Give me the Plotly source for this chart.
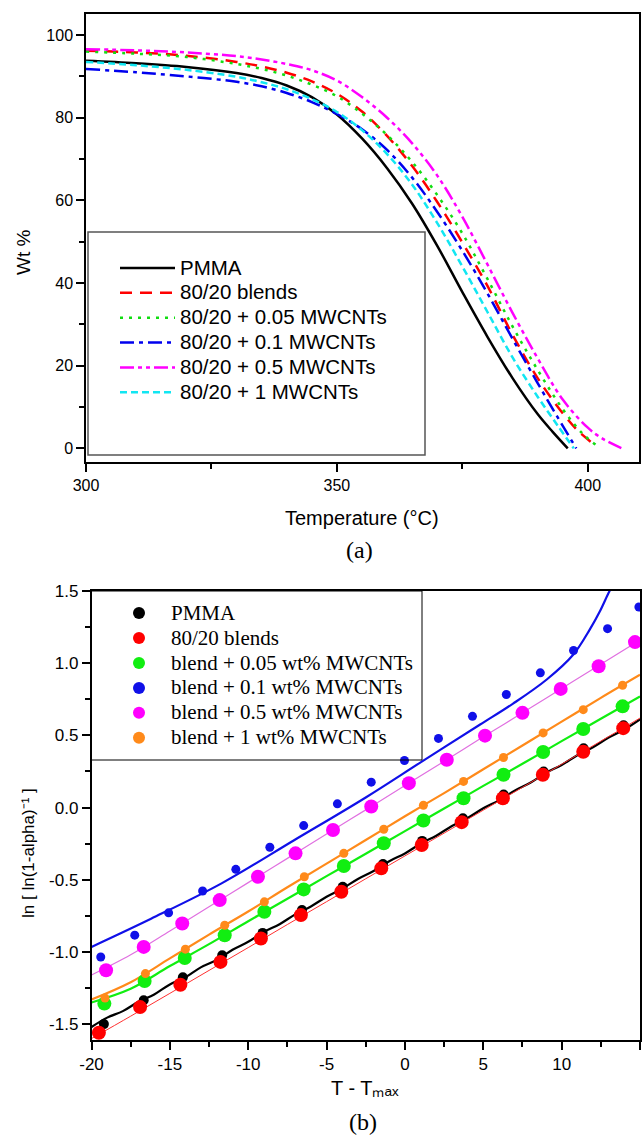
import plotly.graph_objects as go

W, H = 642, 1137

# ---------------- panel (a): TGA curves ----------------
series_a = ["PMMA", "80/20 blends", "80/20 + 0.05 MWCNTs", "80/20 + 0.1 MWCNTs",
            "80/20 + 0.5 MWCNTs", "80/20 + 1 MWCNTs"]

T_pmma = [300, 310, 320, 330, 335, 340, 345, 350, 355, 360, 365, 370, 375, 380, 385, 390, 393, 396]
W_pmma = [93.8, 93.2, 92.3, 90.8, 89.6, 87.8, 85.0, 80.8, 75.0, 67.8, 59.2, 49.0, 37.8, 27.0, 17.0, 8.3, 4.0, 0.0]

T_blend = [300, 310, 320, 330, 335, 340, 345, 350, 355, 360, 365, 370, 375, 380, 385, 390, 395, 398, 401]
W_blend = [96.2, 95.8, 95.0, 93.5, 92.4, 90.9, 88.8, 85.8, 81.5, 75.6, 68.3, 59.6, 49.8, 39.3, 27.5, 17.0, 8.5, 4.3, 1.2]

T_c005 = [300, 310, 320, 330, 335, 340, 345, 350, 355, 360, 365, 370, 375, 380, 385, 390, 395, 399, 402]
W_c005 = [96.0, 95.5, 94.7, 93.0, 91.8, 90.2, 88.0, 85.2, 81.0, 75.8, 69.3, 61.3, 52.0, 41.0, 29.5, 19.0, 9.5, 3.5, 0.5]

T_c01 = [300, 310, 320, 330, 335, 340, 345, 350, 355, 360, 365, 370, 375, 380, 385, 390, 394, 397.7]
W_c01 = [91.8, 91.0, 90.0, 88.7, 87.6, 86.0, 83.8, 80.9, 77.2, 72.2, 65.5, 57.2, 47.8, 37.5, 26.5, 15.8, 7.5, 0.0]

T_c05 = [300, 310, 320, 330, 335, 340, 345, 350, 355, 360, 365, 370, 375, 380, 385, 390, 395, 400, 403, 406.8]
W_c05 = [96.6, 96.3, 95.8, 94.9, 94.1, 93.0, 91.5, 89.0, 85.0, 80.0, 73.8, 66.0, 56.0, 44.5, 32.8, 21.8, 11.8, 5.0, 2.3, 0.0]

T_c1 = [300, 310, 320, 330, 335, 340, 345, 350, 355, 360, 365, 370, 375, 380, 385, 390, 394, 397.2]
W_c1 = [93.5, 92.7, 91.6, 89.9, 88.6, 86.9, 84.5, 81.4, 77.0, 71.2, 63.8, 54.5, 44.0, 33.0, 22.0, 12.5, 5.5, 0.0]

# ---------------- panel (b): kinetic plots ----------------
series_b = ["PMMA", "80/20 blends", "blend + 0.05 wt% MWCNTs", "blend + 0.1 wt% MWCNTs",
            "blend + 0.5 wt% MWCNTs", "blend + 1 wt% MWCNTs"]

# measured points
Tb_pmma = [-19.21, -16.67, -14.17, -11.66, -9.08, -6.57, -3.97, -1.40, 1.10, 3.70, 6.30, 8.85, 11.40, 13.95]
Yb_pmma = [-1.50, -1.335, -1.176, -1.023, -0.868, -0.710, -0.548, -0.391, -0.231, -0.074, 0.09, 0.25, 0.41, 0.57]

Tb_blend = [-19.53, -16.90, -14.33, -11.77, -9.19, -6.64, -4.06, -1.51, 1.07, 3.62, 6.25, 8.80, 11.38, 13.93]
Yb_blend = [-1.56, -1.382, -1.227, -1.069, -0.907, -0.745, -0.583, -0.421, -0.259, -0.101, 0.065, 0.227, 0.387, 0.550]

Tb_c005 = [-19.18, -16.61, -14.05, -11.50, -8.97, -6.46, -3.90, -1.35, 1.18, 3.74, 6.29, 8.82, 11.38, 13.89]
Yb_c005 = [-1.358, -1.201, -1.042, -0.884, -0.722, -0.567, -0.405, -0.247, -0.090, 0.065, 0.227, 0.385, 0.544, 0.701]

Tb_c01 = [-19.41, -17.24, -15.08, -12.91, -10.79, -8.62, -6.46, -4.31, -2.15, -0.03, 2.14, 4.31,
          6.47, 8.64, 10.76, 12.93, 14.93]
Yb_c01 = [-1.035, -0.884, -0.729, -0.578, -0.428, -0.275, -0.125, 0.026, 0.176, 0.326, 0.479, 0.632,
          0.783, 0.933, 1.088, 1.239, 1.389]

Tb_c05 = [-19.07, -16.67, -14.21, -11.82, -9.38, -6.98, -4.59, -2.15, 0.25, 2.67, 5.11, 7.50, 9.94, 12.36, 14.68]
Yb_c05 = [-1.127, -0.965, -0.803, -0.641, -0.479, -0.317, -0.155, 0.007, 0.169, 0.331, 0.498, 0.656, 0.822, 0.979, 1.146]

Tb_c1 = [-19.14, -16.56, -14.01, -11.50, -8.97, -6.42, -3.90, -1.35, 1.18, 3.74, 6.29, 8.82, 11.38, 13.89]
Yb_c1 = [-1.319, -1.150, -0.981, -0.815, -0.653, -0.479, -0.317, -0.150, 0.016, 0.181, 0.347, 0.517, 0.678, 0.847]

# fitted curves
Tf_pmma = list(range(-20, 16))
Yf_pmma = [-1.52, -1.455, -1.41, -1.345, -1.295, -1.225, -1.175, -1.105, -1.055, -0.985, -0.93, -0.862,
           -0.808, -0.74, -0.685, -0.618, -0.562, -0.495, -0.44, -0.372, -0.318, -0.25, -0.195, -0.128,
           -0.072, -0.005, 0.05, 0.117, 0.172, 0.24, 0.295, 0.362, 0.418, 0.485, 0.54, 0.61]

Tf_grid = [-20, -17.5, -15, -12.5, -10, -7.5, -5, -2.5, 0, 2.5, 5, 7.5, 10, 12.5, 15]
Yf_blend = [-1.60, -1.445, -1.287, -1.128, -0.97, -0.81, -0.652, -0.493, -0.335, -0.177, -0.018, 0.14, 0.30, 0.46, 0.62]
Yf_c005 = [-1.35, -1.255, -1.098, -0.946, -0.787, -0.632, -0.475, -0.32, -0.163, -0.007, 0.15, 0.303, 0.46, 0.615, 0.77]
Yf_c05 = [-1.16, -1.02, -0.855, -0.687, -0.52, -0.352, -0.183, -0.016, 0.152, 0.32, 0.49, 0.656, 0.825, 0.993, 1.16]
Yf_c1 = [-1.33, -1.21, -1.045, -0.88, -0.72, -0.552, -0.388, -0.225, -0.06, 0.10, 0.265, 0.43, 0.595, 0.76, 0.92]

Tf_c01 = [-20, -16.2, -11.7, -7.1, -2.5, 1.1, 4.8, 6.9, 9.05, 10.75, 11.8, 12.45, 12.9, 13.1, 13.3]
Yf_c01 = [-0.965, -0.77, -0.525, -0.228, 0.07, 0.32, 0.575, 0.72, 0.887, 1.06, 1.234, 1.361, 1.465, 1.51, 1.56]

xb_ticks = [-20, -15, -10, -5, 0, 5, 10, 15]
xb_labels = ["-20", "-15", "-10", "-5", "0", "5", "10", "15"]
yb_ticks = [-1.5, -1.0, -0.5, 0.0, 0.5, 1.0, 1.5]
yb_labels = ["-1.5", "-1.0", "-0.5", "0.0", "0.5", "1.0", "1.5"]

# ---------------- styles ----------------
cols_a = ["#000000", "#ff0000", "#11dd11", "#0000ee", "#ff00ff", "#11e6f2"]
dash_a = ["solid", "12px,8px", "3px,6px", "14px,5px,4px,5px", "14px,4px,4px,4px,4px,4px", "7px,4px"]

fig = go.Figure()

data_a = [(T_pmma, W_pmma), (T_blend, W_blend), (T_c005, W_c005), (T_c01, W_c01), (T_c05, W_c05), (T_c1, W_c1)]
for name, (tx, wy), c, d in zip(series_a, data_a, cols_a, dash_a):
    fig.add_trace(go.Scatter(
        x=tx, y=wy, mode="lines", line=dict(color=c, width=2.5, dash=d, shape="spline", smoothing=1.0),
        name='<span style="font-size:20.5px">' + name + '</span>', xaxis="x", yaxis="y", legend="legend"))

# fit lines (b)
fits = [
    (Tf_pmma, Yf_pmma, "#000000", 2.2),
    (Tf_grid, Yf_blend, "#ff3030", 1.0),
    (Tf_grid, Yf_c005, "#11ee11", 2.2),
    (Tf_c01, Yf_c01, "#1010e8", 2.2),
    (Tf_grid, Yf_c05, "#e070e0", 1.2),
    (Tf_grid, Yf_c1, "#ff8a1a", 2.2),
]
for tx, ty, c, w in fits:
    fig.add_trace(go.Scatter(x=tx, y=ty, mode="lines", line=dict(color=c, width=w, shape="spline"),
                             showlegend=False, xaxis="x2", yaxis="y2", hoverinfo="skip"))

pts = [
    (Tb_pmma, Yb_pmma, "#000000", 10),
    (Tb_blend, Yb_blend, "#ff0000", 14),
    (Tb_c005, Yb_c005, "#11ee11", 14),
    (Tb_c01, Yb_c01, "#1010e8", 9),
    (Tb_c05, Yb_c05, "#ff00ff", 14),
    (Tb_c1, Yb_c1, "#ff8a1a", 9),
]
for name, (tx, ty, c, s) in zip(series_b, pts):
    fig.add_trace(go.Scatter(x=tx, y=ty, mode="markers", marker=dict(color=c, size=s, line=dict(width=0)),
                             name='<span style="font-size:21px">' + name + '</span>',
                             xaxis="x2", yaxis="y2", legend="legend2"))

axis_common = dict(showline=True, mirror=True, linecolor="black", linewidth=1.5, ticks="outside",
                   ticklen=8, tickwidth=1.5, tickcolor="black", showgrid=False, zeroline=False,
                   automargin=False)

fig.update_layout(
    width=W, height=H,
    margin=dict(l=0, r=0, t=0, b=0),
    paper_bgcolor="white", plot_bgcolor="white",
    font=dict(family="Arial, 'Liberation Sans', sans-serif", color="black", size=16),
    xaxis=dict(domain=[86 / W, 639 / W], range=[300, 410.2], anchor="y", tick0=300, dtick=50,
               tickfont=dict(size=16),
               minor=dict(ticks="outside", ticklen=5, tickwidth=1.5, tickcolor="black", dtick=25, tick0=300),
               **axis_common),
    yaxis=dict(domain=[1 - 462 / H, 1 - 14 / H], range=[-3.3, 105.1], anchor="x", tick0=0, dtick=20,
               tickfont=dict(size=16),
               minor=dict(ticks="outside", ticklen=5, tickwidth=1.5, tickcolor="black", dtick=10, tick0=0),
               **axis_common),
    xaxis2=dict(domain=[91.5 / W, 640 / W], range=[-20, 15], anchor="y2",
                tickmode="array", tickvals=xb_ticks, ticktext=xb_labels, tickfont=dict(size=17),
                minor=dict(ticks="outside", ticklen=5, tickwidth=1.5, tickcolor="black",
                           tickmode="linear", dtick=2.5, tick0=0),
                **axis_common),
    yaxis2=dict(domain=[1 - 1040 / H, 1 - 591 / H], range=[-1.61, 1.5], anchor="x2",
                tickmode="array", tickvals=yb_ticks, ticktext=yb_labels, tickfont=dict(size=17),
                minor=dict(ticks="outside", ticklen=5, tickwidth=1.5, tickcolor="black",
                           tickmode="linear", dtick=0.25, tick0=0),
                **axis_common),
    legend=dict(x=115 / W, y=1 - 250.6 / H, xanchor="left", yanchor="top", bgcolor="rgba(0,0,0,0)",
                borderwidth=0, itemwidth=55, font=dict(size=16.8, family="Arial, 'Liberation Sans', sans-serif"),
                tracegroupgap=0),
    legend2=dict(x=107 / W, y=1 - 595.5 / H, xanchor="left", yanchor="top", bgcolor="rgba(0,0,0,0)",
                 borderwidth=0, itemwidth=54, itemsizing="constant",
                 font=dict(size=16.9, family="'Liberation Serif', 'Times New Roman', serif"),
                 tracegroupgap=0),
    shapes=[
        dict(type="rect", xref="paper", yref="paper", x0=88 / W, x1=425 / W, y0=1 - 455 / H, y1=1 - 232 / H,
             line=dict(color="#555555", width=1.5), fillcolor="rgba(0,0,0,0)", layer="above"),
        dict(type="rect", xref="paper", yref="paper", x0=91.5 / W, x1=422 / W, y0=1 - 760 / H, y1=1 - 591 / H,
             line=dict(color="black", width=1), fillcolor="rgba(0,0,0,0)", layer="above"),
    ],
    annotations=[
        dict(text="Wt %", x=23 / W, y=1 - 252 / H, xref="paper", yref="paper", showarrow=False,
             textangle=-90, font=dict(size=19), xanchor="center", yanchor="middle"),
        dict(text="Temperature (\u00b0C)", x=362 / W, y=1 - 518 / H, xref="paper", yref="paper",
             showarrow=False, font=dict(size=20), xanchor="center", yanchor="middle"),
        dict(text="(a)", x=359 / W, y=1 - 550 / H, xref="paper", yref="paper", showarrow=False,
             font=dict(size=24, family="'Liberation Serif', 'Times New Roman', serif"),
             xanchor="center", yanchor="middle"),
        dict(text="ln [ ln(1-alpha)\u207b\u00b9 ]", x=28 / W, y=1 - 853 / H, xref="paper", yref="paper",
             showarrow=False, textangle=-90, font=dict(size=17), xanchor="center", yanchor="middle"),
        dict(text="T - T\u2098\u2090\u2093", x=365 / W, y=1 - 1088 / H, xref="paper", yref="paper",
             showarrow=False, font=dict(size=20), xanchor="center", yanchor="middle"),
        dict(text="(b)", x=363 / W, y=1 - 1122 / H, xref="paper", yref="paper", showarrow=False,
             font=dict(size=24, family="'Liberation Serif', 'Times New Roman', serif"),
             xanchor="center", yanchor="middle"),
    ],
)

fig.write_html("out.html")
